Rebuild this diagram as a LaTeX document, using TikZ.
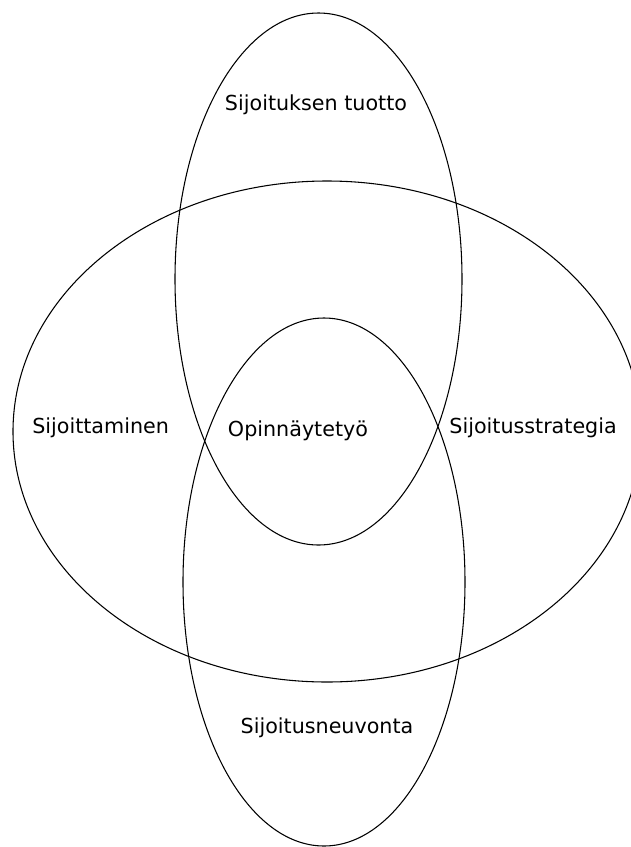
\documentclass[tikz,border=0pt]{standalone}
\usepackage{fontspec}
\setmainfont{DejaVu Sans}
\tikzset{
  % outline of one set
  set line/.style={black, line width=0.8pt},
  % text inside the sets
  set text/.style={font=\fontsize{15.5}{18}\selectfont, inner sep=0pt},
}

\begin{document}
\begin{tikzpicture}[x=0.75pt,y=-0.75pt]
\useasboundingbox (0,0) rectangle (631,847);
\draw[set line] (327,431.5) ellipse [x radius=314, y radius=250.5];
\draw[set line] (318.5,279) ellipse [x radius=143.5, y radius=266];
\draw[set line] (324,582) ellipse [x radius=141, y radius=264];
\node[set text] (tuotto) at (316,105) {Sijoituksen tuotto};
\node[set text, anchor=west] (sijoittaminen) at (32,428) {Sijoittaminen};
\node[set text] (opinnaytetyo) at (298,431) {Opinnäytetyö};
\node[set text, anchor=east] (strategia) at (617,428) {Sijoitusstrategia};
\node[set text] (neuvonta) at (327,728) {Sijoitusneuvonta};
\end{tikzpicture}
\end{document}
